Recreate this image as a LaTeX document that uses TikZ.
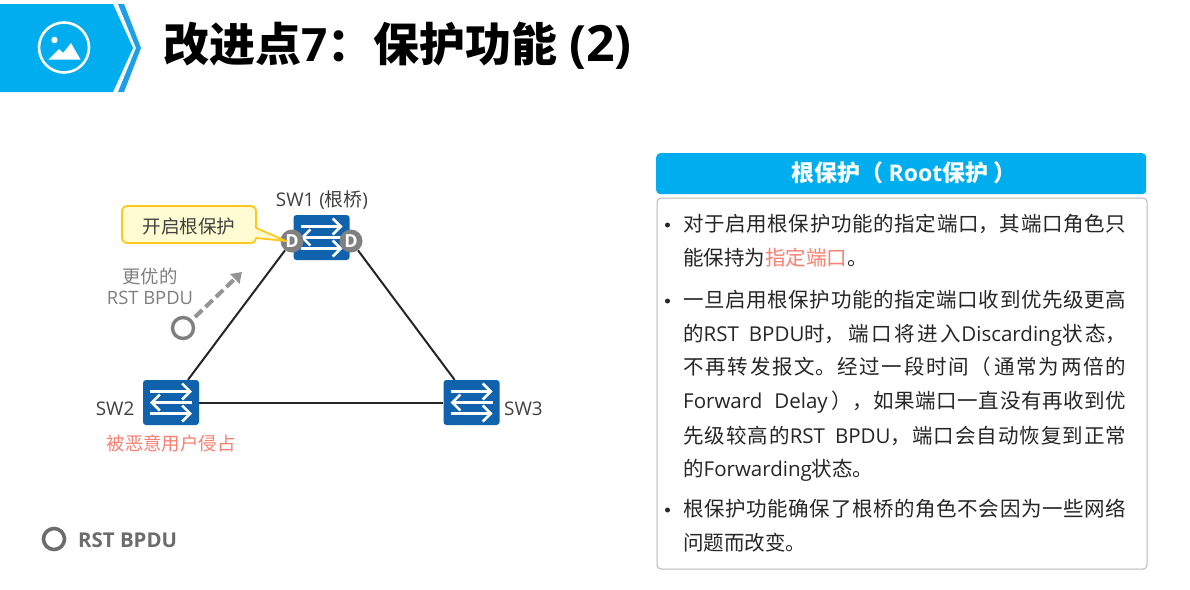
\documentclass[tikz,border=0pt]{standalone}
\usepackage{fontspec}
\usetikzlibrary{arrows.meta,calc}
\setmainfont{Open Sans}
\newfontfamily\cjk{Noto Sans CJK SC}
\newcommand{\Cn}[1]{{\cjk #1}}
\definecolor{hwblue}{HTML}{00AEEF}
\definecolor{hwband}{HTML}{1C9FE6}
\definecolor{swblue}{HTML}{1162AC}
\definecolor{ptgray}{HTML}{808080}
\definecolor{txgray}{HTML}{7F7F7F}
\definecolor{txdark}{HTML}{404040}
\definecolor{hot}{HTML}{FA8072}
\definecolor{callfill}{HTML}{FFFBD2}
\definecolor{callline}{HTML}{FFC81E}
\newcommand{\bodysize}{\fontsize{20.5}{24}\selectfont}
\newcommand{\Just}[1]{\parbox{443pt}{\XeTeXlinebreaklocale "zh"\XeTeXlinebreakskip=0pt plus 3pt\parfillskip=0pt\relax\noindent\bodysize #1}}
\tikzset{
  x=1pt,y=-1pt,
  switchbox/.style={draw=none,fill=swblue,rounded corners=3pt,minimum width=56pt,minimum height=45pt,inner sep=0pt},
  swarrow/.style={draw=white,line width=2.6pt,-{Straight Barb[length=8pt,width=16pt,line width=2.6pt]}},
  portD/.style={circle,fill=ptgray,minimum size=23pt,inner sep=0pt,text=white,font=\fontsize{18}{20}\selectfont\bfseries},
  link/.style={draw=black!85,line width=2pt},
  small/.style={font=\fontsize{18.8}{22}\selectfont,text=txdark,inner sep=0pt},
  line/.style={anchor=west,inner sep=0pt,text=black!85},
  bullet/.style={circle,fill=black!85,minimum size=5pt,inner sep=0pt},
}
\newcommand{\swicon}[1]{%
  \draw[swarrow] ($(#1.center)+(-21,-11)$) -- ($(#1.center)+(21,-11)$);
  \draw[swarrow] ($(#1.center)+(21,0)$) -- ($(#1.center)+(-21,0)$);
  \draw[swarrow] ($(#1.center)+(-21,11)$) -- ($(#1.center)+(21,11)$);
}
\begin{document}
\begin{tikzpicture}
\useasboundingbox (0,0) rectangle (1190,589);
\fill[white] (0,0) rectangle (1190,589);
% header
\fill[hwblue] (0,4) -- (113,4) -- (133,48) -- (113,92) -- (0,92) -- cycle;
\fill[hwband] (118,4) -- (124,4) -- (141,48) -- (124,92) -- (118,92) -- (136,48) -- cycle;
\draw[white,line width=2.6pt] (64,47.5) circle (25);
\fill[white] (54.5,40) circle (3.2);
\fill[white] (48.5,59.5) -- (59,49) -- (63,53) -- (71,43) -- (80.5,59.5) -- cycle;
\node[anchor=west,inner sep=0pt,text=black,font=\fontsize{46}{50}\selectfont\bfseries] (title) at (163,46) {\Cn{\bfseries 改进点}7\Cn{\bfseries ：保护功能} {\fontsize{50}{50}\selectfont (2)}};
% switches and ports
\node[switchbox] (sw1) at (321.5,237.5) {};
\node[switchbox] (sw2) at (171,402.5) {};
\node[switchbox] (sw3) at (471.5,402.5) {};
\swicon{sw1}\swicon{sw2}\swicon{sw3}
\node[portD] (dl) at (292,241) {D};
\node[portD] (dr) at (351,241) {D};
\draw[link] (dl) -- (sw2);
\draw[link] (dr) -- (sw3);
\draw[link] (sw2) -- (sw3);
\node[small] (l1) at (322,200) {SW1 (\Cn{根桥})};
\node[small,anchor=east] (l2) at (134.5,409) {SW2};
\node[small,anchor=west] (l3) at (504,409) {SW3};
\node[inner sep=0pt,text=hot,font=\fontsize{18.4}{22}\selectfont\cjk] (evil) at (171,443) {被恶意用户侵占};
% callout
\draw[fill=callfill,draw=callline,line width=1.8pt,line join=round]
  (128,206) -- (250,206) .. controls (254,206) and (256,208) .. (256,212) -- (256,228) -- (286,241) -- (256,238)
  .. controls (256,241) and (254,243) .. (250,243) -- (128,243) .. controls (124,243) and (122,241) .. (122,237)
  -- (122,212) .. controls (122,208) and (124,206) .. (128,206) -- cycle;
\node[inner sep=0pt,text=txdark,font=\fontsize{18.6}{22}\selectfont\cjk] (calltext) at (189,226) {开启根保护};
% BPDU
\node[draw=txgray,line width=3.4pt,circle,minimum size=21pt,inner sep=0pt] (pkt) at (183,328) {};
\coordinate (pktstart) at (195,317);
\coordinate (pktend) at (242,272);
\draw[draw=black!42,line width=4pt,dash pattern=on 10pt off 4.5pt,-{Triangle[length=10pt,width=13pt]}] (pktstart) -- (pktend);
\node[inner sep=0pt,text=txgray,font=\fontsize{18.4}{22}\selectfont\cjk] (better) at (150,276) {更优的};
\node[inner sep=0pt,text=txgray,font=\fontsize{18.4}{22}\selectfont] (rst) at (150,298) {RST BPDU};
% legend
\node[draw=txgray!85!black,line width=3.6pt,circle,minimum size=21pt,inner sep=0pt] (legc) at (54,539) {};
\node[anchor=west,inner sep=0pt,text=txgray!85!black,font=\fontsize{20.4}{24}\selectfont\bfseries] (legt) at (78,540) {RST BPDU};
% right panel
\node[anchor=north west,fill=hwblue,rounded corners=4pt,minimum width=490pt,minimum height=41pt,inner sep=0pt] (head) at (656,153) {};
\node[text=white,inner sep=0pt,font=\fontsize{23}{26}\selectfont\bfseries] (headt) at (904,172.5) {\Cn{\bfseries 根保护（}\hspace{5pt}Root\Cn{\bfseries 保护}\hspace{5pt}\Cn{\bfseries ）}};
\node[anchor=north west,draw=black!28,line width=1pt,fill=white,rounded corners=4pt,minimum width=490pt,minimum height=371pt,inner sep=0pt] (panel) at (656.5,197.5) {};
\node[bullet] (b1) at (667.5,225) {};
\node[bullet] (b2) at (667.5,301) {};
\node[bullet] (b3) at (667.5,510) {};
\node[line] (t1) at (683,224) {\Just{\cjk 对于启用根保护功能的指定端口，其端口角色只}};
\node[line] (t2) at (683,258) {\bodysize\cjk 能保持为\textcolor{hot}{指定端口}。};
\node[line] (t3) at (683,300) {\Just{\cjk 一旦启用根保护功能的指定端口收到优先级更高}};
\node[line] (t4) at (683,335) {\Just{\Cn{的}RST\hspace{10pt}BPDU\Cn{时，端口将进入}Discarding\Cn{状态，}}};
\node[line] (t5) at (683,367) {\Just{\cjk 不再转发报文。经过一段时间（\hspace{3pt}通常为两倍的}};
\node[line] (t6) at (683,402) {\Just{Forward\hspace{12pt}Delay\hspace{4pt}\Cn{），如果端口一直没有再收到优}}};
\node[line] (t7) at (683,436) {\Just{\Cn{先级较高的}RST\hspace{10pt}BPDU\Cn{，端口会自动恢复到正常}}};
\node[line] (t8) at (683,470) {\bodysize\Cn{的}Forwarding\Cn{状态。}};
\node[line] (t9) at (683,509) {\Just{\cjk 根保护功能确保了根桥的角色不会因为一些网络}};
\node[line] (t10) at (683,543) {\bodysize\cjk 问题而改变。};
\end{tikzpicture}
\end{document}
